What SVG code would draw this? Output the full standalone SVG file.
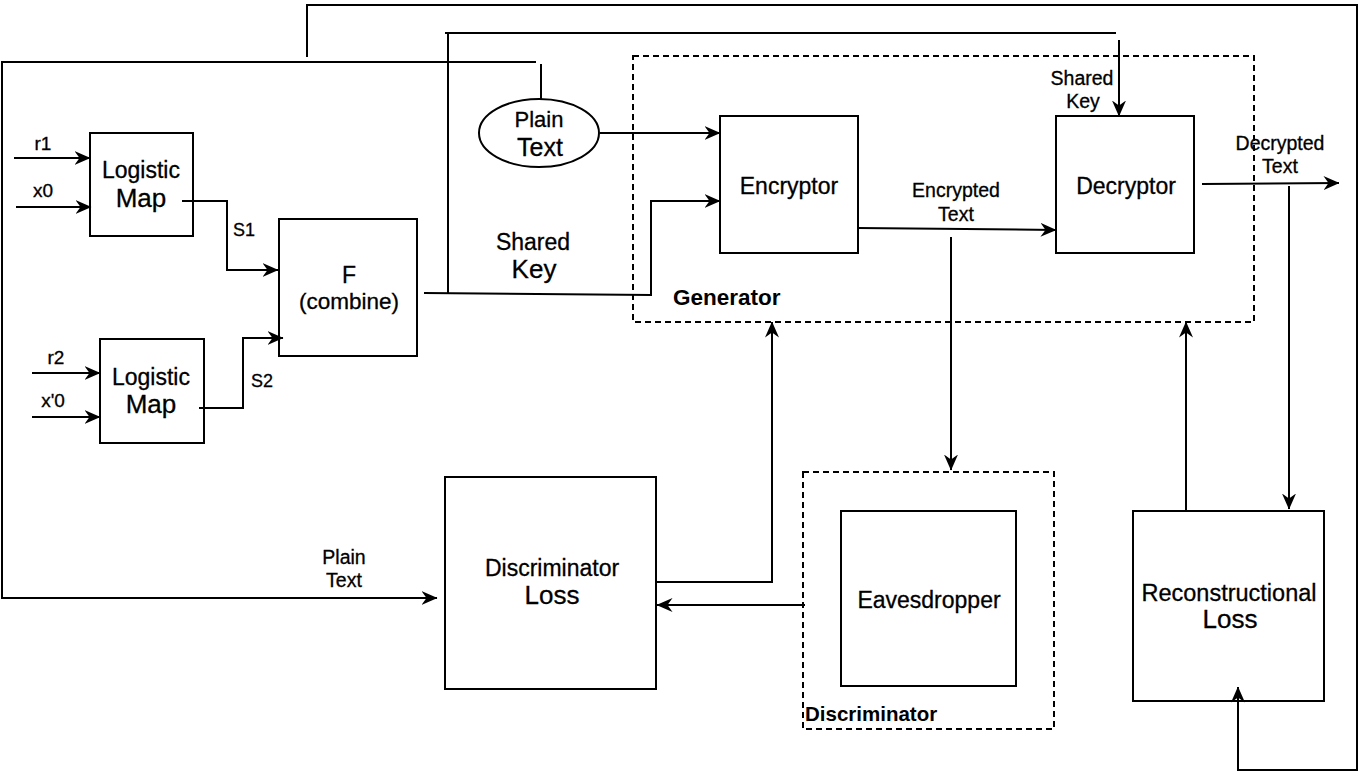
<svg xmlns="http://www.w3.org/2000/svg" width="1363" height="771" viewBox="0 0 1363 771">
<style>
  text { font-family: "Liberation Sans", Arial, sans-serif; fill: #000; stroke: #000; stroke-width: 0.3; }
  .box { fill: #fff; stroke: #000; stroke-width: 2; }
  .dash { fill: none; stroke: #000; stroke-width: 2; stroke-dasharray: 6 4; }
  .ln { fill: none; stroke: #000; stroke-width: 2; }
  .arr { fill: none; stroke: #000; stroke-width: 2; marker-end: url(#ah); }
  .c { text-anchor: middle; }
  .b { font-weight: bold; stroke-width: 0; }
</style>
<defs>
  <marker id="ah" markerUnits="userSpaceOnUse" viewBox="0 0 16 14" refX="15.5" refY="7" markerWidth="16" markerHeight="14" orient="auto">
    <path d="M0,0 L16,7 L0,14 L5,7 Z" fill="#000"/>
  </marker>
</defs>
<rect width="1363" height="771" fill="#fff"/>

<g id="generator">
  <rect class="dash" x="633" y="56" width="621" height="266"/>
  <text class="b" x="673" y="305" font-size="22.5">Generator</text>
</g>

<g id="discriminator">
  <rect class="dash" x="803" y="472" width="251" height="257"/>
  <text class="b" x="805" y="721" font-size="20.5">Discriminator</text>
</g>

<g id="logistic1">
  <rect class="box" x="90" y="133" width="103" height="103"/>
  <text class="c" x="141" y="178" font-size="23">Logistic</text>
  <text class="c" x="141" y="207" font-size="26">Map</text>
</g>

<g id="logistic2">
  <rect class="box" x="100" y="339" width="104" height="104"/>
  <text class="c" x="151" y="385" font-size="23">Logistic</text>
  <text class="c" x="151" y="413" font-size="26">Map</text>
</g>

<g id="combine">
  <rect class="box" x="279" y="219" width="138" height="137"/>
  <text class="c" x="349" y="283" font-size="23">F</text>
  <text class="c" x="349" y="309" font-size="22.5">(combine)</text>
</g>

<g id="plaintext">
  <ellipse cx="539" cy="133" rx="60" ry="34" fill="#fff" stroke="#000" stroke-width="2"/>
  <text class="c" x="539" y="127" font-size="22">Plain</text>
  <text class="c" x="540" y="156" font-size="25">Text</text>
</g>

<g id="encryptor">
  <rect class="box" x="720" y="116" width="138" height="137"/>
  <text class="c" x="789" y="194" font-size="23">Encryptor</text>
</g>

<g id="decryptor">
  <rect class="box" x="1056" y="116" width="138" height="137"/>
  <text class="c" x="1126" y="194" font-size="23" stroke-width="0.7">Decryptor</text>
</g>

<g id="discloss">
  <rect class="box" x="445" y="477" width="211" height="212"/>
  <text class="c" x="552" y="576" font-size="23">Discriminator</text>
  <text class="c" x="552" y="604" font-size="26">Loss</text>
</g>

<g id="eavesdropper">
  <rect class="box" x="841" y="511" width="175" height="175"/>
  <text class="c" x="929" y="608" font-size="23">Eavesdropper</text>
</g>

<g id="reconloss">
  <rect class="box" x="1133" y="511" width="191" height="190"/>
  <text class="c" x="1229" y="601" font-size="23.5">Reconstructional</text>
  <text class="c" x="1230" y="628" font-size="26">Loss</text>
</g>

<g id="labels">
  <text class="c" x="43" y="150" font-size="19">r1</text>
  <text class="c" x="43" y="197" font-size="19">x0</text>
  <text class="c" x="56" y="364" font-size="19">r2</text>
  <text class="c" x="53" y="407" font-size="19">x'0</text>
  <text class="c" x="244" y="236" font-size="18">S1</text>
  <text class="c" x="262" y="387" font-size="18">S2</text>
  <text class="c" x="533" y="250" font-size="23">Shared</text>
  <text class="c" x="534" y="278" font-size="26">Key</text>
  <text class="c" x="1082" y="85" font-size="19.5">Shared</text>
  <text class="c" x="1083" y="108" font-size="19.5">Key</text>
  <text class="c" x="956" y="197" font-size="19.5">Encrypted</text>
  <text class="c" x="956" y="221" font-size="19.5">Text</text>
  <text class="c" x="1280" y="150" font-size="19.5">Decrypted</text>
  <text class="c" x="1280" y="173" font-size="19.5">Text</text>
  <text class="c" x="344" y="564" font-size="19.5">Plain</text>
  <text class="c" x="344" y="587" font-size="19.5">Text</text>
</g>

<g id="connectors">
  <path class="arr" d="M14,158 L90,158"/>
  <path class="arr" d="M16,207 L91,207"/>
  <path class="arr" d="M32,373 L100,373"/>
  <path class="arr" d="M32,417 L100,417"/>
  <path class="arr" d="M182,201 L227,201 L227,270 L278,270"/>
  <path class="arr" d="M199,408 L243,408 L243,338 L283,338"/>
  <path class="arr" d="M424,293 L651,295 L651,201 L720,201"/>
  <path class="ln" d="M448,293 L448,33"/>
  <path class="ln" d="M445,33 L1116,33"/>
  <path class="arr" d="M1119,40 L1119,116"/>
  <path class="ln" d="M541,99 L541,64"/>
  <path class="arr" d="M536,62 L2,62 L2,598 L437,598"/>
  <path class="arr" d="M600,133 L720,133"/>
  <path class="arr" d="M858,228 L1056,230"/>
  <path class="arr" d="M951,237 L951,470"/>
  <path class="arr" d="M1202,184 L1339,183"/>
  <path class="arr" d="M1289,186 L1289,509"/>
  <path class="arr" d="M307,57 L307,5 L1357,5 L1357,770 L1238,770 L1238,687"/>
  <path class="arr" d="M1186,511 L1186,322"/>
  <path class="arr" d="M656,582 L772,582 L772,322"/>
  <path class="arr" d="M805,605 L657,605"/>
</g>
</svg>
